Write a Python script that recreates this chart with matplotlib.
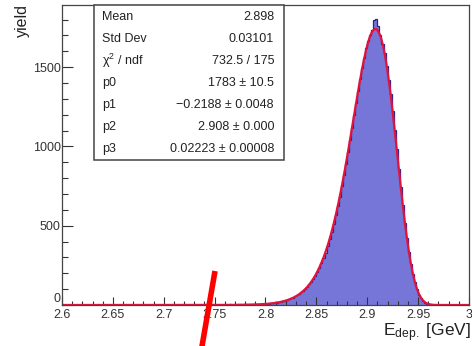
import numpy as np
import matplotlib
matplotlib.use("Agg")
import matplotlib.pyplot as plt
from matplotlib.lines import Line2D
from matplotlib.patches import Rectangle

plt.rcParams['font.family'] = ['Liberation Sans', 'DejaVu Sans']
plt.rcParams['mathtext.fontset'] = 'custom'
plt.rcParams['mathtext.rm'] = 'Liberation Sans'
plt.rcParams['mathtext.it'] = 'Liberation Sans:italic'

# histogram: 200 bins of 0.002 GeV between 2.6 and 3.0
x_lo, x_hi, n_bins = 2.6, 3.0, 200
counts_260_270 = [0, 0, 0, 0, 0, 0, 0, 0, 0, 0, 0, 0, 0, 0, 0, 0, 0, 0, 0, 0,
                  0, 0, 0, 0, 0, 0, 0, 0, 0, 1, 0, 0, 0, 0, 0, 0, 1, 0, 0, 0,
                  0, 1, 0, 0, 0, 1, 0, 0, 0, 1]
counts_270_280 = [0, 1, 0, 1, 0, 1, 2, 0, 1, 1, 0, 2, 1, 1, 0, 1, 2, 1, 3, 1,
                  1, 2, 2, 1, 3, 2, 1, 2, 3, 2, 3, 2, 4, 2, 3, 3, 4, 5, 3, 4,
                  4, 5, 6, 4, 5, 6, 7, 5, 6, 8]
counts_280_297 = [8, 9, 11, 10, 14, 15, 19, 18, 24, 27, 31, 36, 41, 47, 55,
                  62, 71, 80, 90, 101, 114, 130, 147, 165, 186,
                  209, 236, 262, 297, 331, 371, 414, 461, 510, 566, 622, 684,
                  748, 818, 889, 965, 1042, 1118, 1200, 1272, 1350, 1428, 1495,
                  1560, 1618,
                  1662, 1700, 1735, 1795, 1802, 1760, 1702, 1648, 1590, 1508,
                  1420, 1330, 1222, 1105, 985, 860, 742, 628, 520, 420, 332,
                  258, 196, 142, 98,
                  66, 42, 25, 14, 7, 4, 2, 1, 1, 0]
counts_297_300 = [0] * 15

stat_labels = ["Mean", "Std Dev", "\u03c7$^{2}$ / ndf", "p0", "p1", "p2", "p3"]
stat_values = ["2.898", "0.03101", "732.5 / 175", "1783 \u00b1 10.5",
               "\u22120.2188 \u00b1 0.0048", "2.908 \u00b1 0.000",
               "0.02223 \u00b1 0.00008"]
fit_p = [1783, -0.2188, 2.908, 0.02223]   # norm, tail, peak, width

counts = np.array(counts_260_270 + counts_270_280 + counts_280_297 + counts_297_300)
edges = np.linspace(x_lo, x_hi, n_bins + 1)


def novosibirsk(x, norm, tail, peak, width):
    qa = tail * np.sqrt(np.log(4))
    qb = np.sinh(qa) / qa
    qy = 1 + tail * (x - peak) / width * qb
    out = np.zeros_like(x)
    ok = qy > 1e-7
    qc = np.log(qy[ok]) / tail
    out[ok] = norm * np.exp(-0.5 * qc ** 2 - 0.5 * tail ** 2)
    return out


W, H = 472, 346
fig = plt.figure(figsize=(W / 100, H / 100), dpi=100)
ax = fig.add_axes([62 / W, 1 - 305 / H, 407 / W, 300 / H])

ax.stairs(counts, edges, fill=True, color="#7676d8", lw=0)
ax.stairs(counts, edges, color="#26268c", lw=0.9)

xf = np.linspace(x_lo, x_hi, 800)
ax.plot(xf, novosibirsk(xf, *fit_p), color="#e2123c", lw=1.6)

ax.set_xlim(x_lo, x_hi)
ax.set_ylim(0, 1892)
ax.set_xticks([2.6, 2.65, 2.7, 2.75, 2.8, 2.85, 2.9, 2.95, 3.0])
ax.set_xticklabels(["2.6", "2.65", "2.7", "2.75", "2.8", "2.85", "2.9", "2.95", "3"])
ax.set_xticks(np.arange(2.6, 3.0001, 0.01), minor=True)
ax.set_yticks([0, 500, 1000, 1500])
ax.set_yticks(np.arange(0, 1900, 100), minor=True)
ax.tick_params(which="both", direction="in", top=False, right=False,
               labelsize=9, colors="#333333", width=0.8)
ax.tick_params(axis="x", which="major", length=6, pad=3)
ax.tick_params(axis="x", which="minor", length=3)
ax.tick_params(axis="y", which="major", length=8, pad=1)
ax.tick_params(axis="y", which="minor", length=4)
for lbl in ax.get_yticklabels():
    lbl.set_verticalalignment("bottom" if lbl.get_text() == "0" else "center_baseline")
for s in ax.spines.values():
    s.set_color("#444444")
    s.set_linewidth(0.9)

fig.text(22 / W, 1 - 4 / H, "yield", rotation=90, ha="center", va="top",
         fontsize=11.5, color="#222222")
fig.text(471 / W, 1 - 336 / H, r"E$_{\mathrm{dep.}}$ [GeV]", ha="right",
         va="baseline", fontsize=12.5, color="#222222")

# stats box
fig.patches.append(Rectangle((94 / W, 1 - 160 / H), 190 / W, 155 / H,
                             transform=fig.transFigure, facecolor="white",
                             edgecolor="#444444", lw=1.1, zorder=5))
for i, (lab, val) in enumerate(zip(stat_labels, stat_values)):
    yy = 1 - (17 + 22 * i) / H
    fig.text(102 / W, yy, lab, ha="left", va="center", fontsize=9,
             color="#222222", zorder=6)
    fig.text(274 / W, yy, val, ha="right", va="center", fontsize=9,
             color="#222222", zorder=6)

# red slash mark over the axis
fig.lines.append(Line2D([215 / W, 201 / W], [1 - 271 / H, 1 - 352 / H],
                        transform=fig.transFigure, color="#ff0000", lw=4,
                        solid_capstyle="butt", zorder=10))

fig.savefig("out.png", dpi=100)
